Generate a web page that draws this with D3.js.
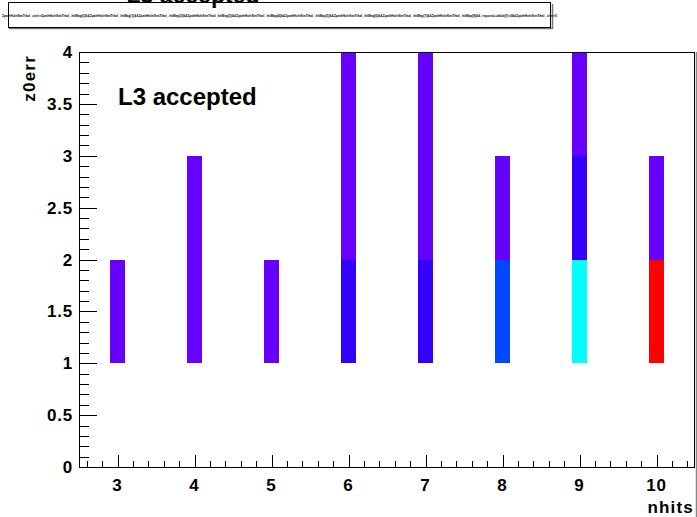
<!DOCTYPE html>
<html>
<head>
<meta charset="utf-8">
<script src="https://cdn.jsdelivr.net/npm/d3@7"></script>
<style>
  body { margin: 0; background: #fff; }
  svg { display: block; font-family: "Liberation Sans", Arial, sans-serif; }
</style>
</head>
<body>
<svg id="chart" width="697" height="517"></svg>
<script>
// histogram contents: one cell per (nhits, z0err bin)
const cellNhits = [3, 4, 4, 5, 6, 6, 6, 7, 7, 7, 8, 8, 9, 9, 9, 10, 10];
const cellZ0err = [1, 1, 2, 1, 1, 2, 3, 1, 2, 3, 1, 2, 1, 2, 3, 1, 2];
const cellCount = [1, 1, 1, 1, 2, 1, 1, 2, 1, 1, 3, 1, 5, 2, 1, 9, 1];

const xTicks = [3, 4, 5, 6, 7, 8, 9, 10];
const yTicks = [0, 0.5, 1, 1.5, 2, 2.5, 3, 3.5, 4];
const yTickLabels = ["0", "0.5", "1", "1.5", "2", "2.5", "3", "3.5", "4"];

const cutString = "ZpathHoleSimTrkal_.xiter>ZpathHoleSimTrkal_.hitMap[0]&&ZpathHoleSimTrkal_.hitMap[1]&&ZpathHoleSimTrkal_.hitMap[2]&&ZpathHoleSimTrkal_.hitMap[3]&&ZpathHoleSimTrkal_.hitMap[4]&&ZpathHoleSimTrkal_.hitMap[5]&&ZpathHoleSimTrkal_.hitMap[6]&&ZpathHoleSimTrkal_.hitMap[7]&&ZpathHoleSimTrkal_.hitMap[8]&&_requestLcddck(f)!=0&&ZpathHoleSimTrkal_.xiter>5";

const binW = 0.2;
const frame = {left: 79, right: 695, top: 52, bottom: 467};

const svg = d3.select('#chart');

const x = d3.scaleLinear().domain([2.5, 10.5]).range([frame.left, frame.right]);
const y = d3.scaleLinear().domain([0, 4]).range([frame.bottom, frame.top]);

// ROOT-like rainbow palette
const color = d3.scaleLinear()
    .domain([1, 2, 3, 5, 9])
    .range(["#6600ff", "#3300ff", "#0048ff", "#00ffff", "#ff0000"])
    .interpolate(d3.interpolateRgb);

const cells = cellNhits.map((n, i) => ({n: n, z: cellZ0err[i], c: cellCount[i]}));

svg.append('g')
    .attr('shape-rendering', 'crispEdges')
    .selectAll('rect')
    .data(cells)
    .enter().append('rect')
    .attr('x', d => Math.round(x(d.n - binW / 2)))
    .attr('width', d => Math.round(x(d.n + binW / 2)) - Math.round(x(d.n - binW / 2)))
    .attr('y', d => Math.round(y(d.z + 1)))
    .attr('height', d => Math.round(y(d.z)) - Math.round(y(d.z + 1)))
    .attr('fill', d => color(d.c));

// frame + shadow
svg.append('line')
    .attr('x1', frame.right + 1.5).attr('x2', frame.right + 1.5)
    .attr('y1', frame.top).attr('y2', 517)
    .attr('stroke', '#888').attr('stroke-width', 1.5);
svg.append('rect')
    .attr('x', frame.left + 0.5).attr('y', frame.top + 0.5)
    .attr('width', frame.right - frame.left - 1).attr('height', frame.bottom - frame.top)
    .attr('fill', 'none').attr('stroke', '#000').attr('stroke-width', 1);

// y ticks (pointing inward)
const yAxis = svg.append('g');
d3.range(0, 41).forEach(k => {
    const v = k / 10;
    const major = k % 5 === 0;
    yAxis.append('line')
        .attr('x1', frame.left).attr('x2', frame.left + (major ? 18 : 10))
        .attr('y1', Math.round(y(v)) + 0.5).attr('y2', Math.round(y(v)) + 0.5)
        .attr('stroke', '#000').attr('stroke-width', 1);
});
yAxis.selectAll('text')
    .data(yTicks)
    .enter().append('text')
    .attr('x', 73)
    .attr('y', d => y(d) + 6)
    .attr('text-anchor', 'end')
    .attr('font-size', 17)
    .attr('letter-spacing', 0.8)
    .attr('font-weight', 'bold')
    .text((d, i) => yTickLabels[i]);

// x ticks (pointing inward)
const xAxis = svg.append('g');
d3.range(13, 53).forEach(k => {
    const v = k / 5;
    const major = k % 5 === 0;
    xAxis.append('line')
        .attr('x1', Math.round(x(v)) + 0.5).attr('x2', Math.round(x(v)) + 0.5)
        .attr('y1', frame.bottom).attr('y2', frame.bottom - (major ? 12 : 6))
        .attr('stroke', '#000').attr('stroke-width', 1);
});
xAxis.selectAll('text')
    .data(xTicks)
    .enter().append('text')
    .attr('x', d => x(d))
    .attr('y', 491)
    .attr('text-anchor', 'middle')
    .attr('font-size', 17)
    .attr('letter-spacing', 0.8)
    .attr('font-weight', 'bold')
    .text(d => d);

// axis titles
svg.append('text')
    .attr('x', 694).attr('y', 513)
    .attr('text-anchor', 'end')
    .attr('font-size', 17).attr('font-weight', 'bold')
    .attr('letter-spacing', 1.2)
    .text('nhits');
svg.append('text')
    .attr('transform', 'translate(35,55) rotate(-90)')
    .attr('text-anchor', 'end')
    .attr('font-size', 17).attr('font-weight', 'bold')
    .attr('letter-spacing', 1.2)
    .text('z0err');

// in-plot label
svg.append('text')
    .attr('x', 118).attr('y', 105)
    .attr('font-size', 24).attr('font-weight', 'bold')
    .text('L3 accepted');

// histogram title, clipped at the top of the canvas
svg.append('text')
    .attr('x', 193).attr('y', 2.5)
    .attr('text-anchor', 'middle')
    .attr('font-size', 23).attr('font-weight', 'bold')
    .text('L3 accepted');

// cut-string box
svg.append('line')
    .attr('x1', 9).attr('x2', 552.5).attr('y1', 28.5).attr('y2', 28.5)
    .attr('stroke', '#777').attr('stroke-width', 1.5);
svg.append('line')
    .attr('x1', 552.5).attr('x2', 552.5).attr('y1', 4).attr('y2', 29)
    .attr('stroke', '#777').attr('stroke-width', 1.5);
svg.append('rect')
    .attr('x', 8.5).attr('y', 2.5).attr('width', 542).attr('height', 25)
    .attr('fill', 'none').attr('stroke', '#000').attr('stroke-width', 1);
svg.append('text')
    .attr('x', 2).attr('y', 16.5)
    .attr('font-size', 4).attr('font-weight', 'bold')
    .attr('textLength', 555).attr('lengthAdjust', 'spacingAndGlyphs')
    .text(cutString);
</script>
</body>
</html>
